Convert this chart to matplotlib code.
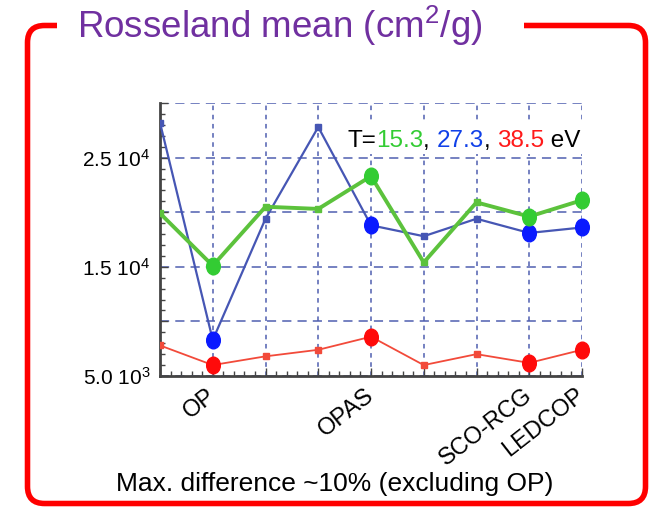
import numpy as np
import matplotlib
matplotlib.use("Agg")
import matplotlib.pyplot as plt
from matplotlib.path import Path
from matplotlib.patches import PathPatch, Rectangle
from matplotlib.transforms import Affine2D, ScaledTranslation
from matplotlib.ticker import MultipleLocator

plt.rcParams['font.family'] = ['Liberation Sans', 'DejaVu Sans']
plt.rcParams['mathtext.fontset'] = 'custom'
plt.rcParams['mathtext.rm'] = 'Liberation Sans'
plt.rcParams['mathtext.default'] = 'regular'

# opacity codes along x (only some are labelled in the original slide)
code_labels = ["", "OP", "", "", "OPAS", "", "", "SCO-RCG", "LEDCOP"]
# Rosseland mean opacity (cm2/g) for the three temperatures
kappa_15 = [19900, 15100, 20500, 20300, 23300, 15400, 20900, 19600, 21100]
kappa_27 = [28200, 8300, 19400, 27800, 18800, 17800, 19400, 18100, 18600]
kappa_38 = [7800, 6000, 6800, 7400, 8600, 6000, 7000, 6200, 7400]
highlight = [1, 4, 7, 8]   # codes drawn with big dots
ytick_vals = [5000, 10000, 15000, 20000, 25000, 30000]
ytick_text = ["5.0 10$^3$", "", "1.5 10$^4$", "", "2.5 10$^4$", ""]

fig = plt.figure(figsize=(6.5, 5.07), dpi=100)
ax = fig.add_axes([160 / 650, 1 - 376 / 507, 422 / 650, 273 / 507])

x = np.arange(len(code_labels))
oval = Path.unit_circle().transformed(Affine2D().scale(0.82, 1.0))

series = [
    (kappa_27, '#4656b4', 1.6, '#0a1aff'),
    (kappa_15, '#5cc23c', 2.8, '#33cc33'),
    (kappa_38, '#f24a3a', 1.3, '#ff0a0a'),
]
for vals, lc, lw, dc in series:
    ax.plot(x, vals, color=lc, lw=lw, marker='s', ms=4, zorder=3)
for vals, lc, lw, dc in series:
    v = np.array(vals)
    ax.plot(x[highlight], v[highlight], ls='none', marker=oval, ms=12,
            color=dc, zorder=4, clip_on=False)

ax.set_xlim(0, 8)
ax.set_ylim(5000, 30000)
ax.set_xticks(x)
ax.set_xticklabels(code_labels)
ax.xaxis.set_minor_locator(MultipleLocator(0.2))
ax.set_yticks(ytick_vals)
ax.set_yticklabels(ytick_text)
ax.yaxis.set_minor_locator(MultipleLocator(1000))

ax.xaxis.grid(True, which='major', color='#4f5fb0', lw=1.1, ls=(0, (3, 3)))
ax.yaxis.grid(True, which='major', color='#4f5fb0', lw=1.1, ls=(0, (6, 4)))
ax.set_axisbelow(True)

for s in ['top', 'right']:
    ax.spines[s].set_visible(False)
for s in ['left', 'bottom']:
    ax.spines[s].set_color('#444444')
    ax.spines[s].set_linewidth(2)

ax.tick_params(which='both', direction='in', color='#444444')
ax.tick_params(which='major', length=6, width=1)
ax.tick_params(which='minor', length=3.5, width=1)
ax.tick_params(axis='y', labelsize=15, pad=7)
ax.tick_params(axis='x', labelsize=17, pad=6, labelrotation=38)
for lab in ax.get_xticklabels():
    lab.set_ha('right')
    lab.set_va('top')
    lab.set_transform(lab.get_transform() + ScaledTranslation(5 / 72, 0, fig.dpi_scale_trans))

# overlay in pixel units for the slide frame and texts
ov = fig.add_axes([0, 0, 1, 1], zorder=5)
ov.set_xlim(0, 650)
ov.set_ylim(507, 0)
ov.axis('off')
ov.patch.set_visible(False)

L, R, T, B, r = 27.5, 645.5, 25.5, 503.5, 17
frame_verts = [(57, T), (L + r, T), (L, T), (L, T + r), (L, B - r), (L, B), (L + r, B),
               (R - r, B), (R, B), (R, B - r), (R, T + r), (R, T), (R - r, T), (524, T)]
frame_codes = [Path.MOVETO, Path.LINETO, Path.CURVE3, Path.CURVE3, Path.LINETO,
               Path.CURVE3, Path.CURVE3, Path.LINETO, Path.CURVE3, Path.CURVE3,
               Path.LINETO, Path.CURVE3, Path.CURVE3, Path.LINETO]
ov.add_patch(PathPatch(Path(frame_verts, frame_codes), fill=False,
                       edgecolor='#ff0000', lw=4, capstyle='butt'))

ov.text(77, 38, "Rosseland mean (cm$^2$/g)", fontsize=26.5, color='#7030a0',
        ha='left', va='baseline')
ov.text(335, 484, "Max. difference ~10% (excluding OP)", fontsize=19,
        color='black', ha='center', va='center')

# temperature legend with coloured numbers
ov.add_patch(Rectangle((343, 122), 262, 32, facecolor='white', edgecolor='none'))
pieces = [("T=", 'black'), ("15.3", '#33cc33'), (", ", 'black'), ("27.3", '#1040e8'),
          (", ", 'black'), ("38.5", '#ff1a1a'), (" eV", 'black')]
prev = ov.text(347, 147, pieces[0][0], fontsize=17.5, color=pieces[0][1],
               ha='left', va='baseline')
for txt, col in pieces[1:]:
    prev = ov.annotate(txt, xy=(1, 0), xycoords=prev, ha='left', va='bottom',
                       fontsize=17.5, color=col)

fig.savefig("out.png", dpi=100)
